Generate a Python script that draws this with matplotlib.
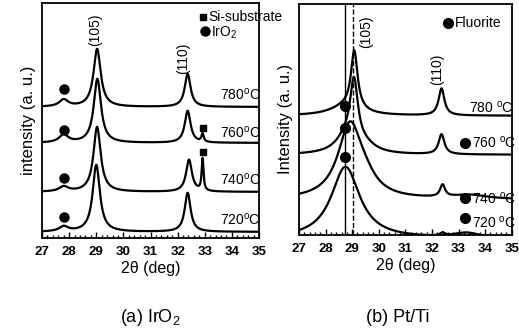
import matplotlib
matplotlib.use('Agg')
import matplotlib.pyplot as plt
from matplotlib.ticker import MultipleLocator
import numpy as np

plt.rcParams['font.family'] = ['Liberation Sans', 'DejaVu Sans']
plt.rcParams['mathtext.fontset'] = 'custom'
plt.rcParams['mathtext.rm'] = 'Liberation Sans'
plt.rcParams['mathtext.it'] = 'Liberation Sans:italic'

# ---- data ----
temps = ['780', '760', '740', '720']

# (a) IrO2: baseline offset and peaks (center 2theta, height, half width)
base_a = [131, 95, 46, 6]
peaks_a = [
    [(27.8, 7, 0.2), (29.03, 58, 0.16), (32.37, 33, 0.13)],
    [(27.8, 8, 0.2), (29.04, 64, 0.16), (32.37, 32, 0.13), (32.92, 8, 0.05)],
    [(27.8, 5, 0.2), (29.03, 65, 0.16), (32.42, 32, 0.13), (32.92, 32, 0.04)],
    [(27.8, 5, 0.2), (29.00, 67, 0.16), (32.37, 39, 0.13)],
]
label_y_a = [143, 105, 58, 18]
irox_dots_a = [(27.8, 149), (27.8, 108), (27.8, 60), (27.8, 21)]
si_marks_a = [(32.95, 110), (32.95, 86)]

# (b) Pt/Ti
base_b = [119, 80, 35, -4]
peaks_b = [
    [(29.08, 58, 0.15), (28.75, 9, 0.7), (32.36, 27, 0.13)],
    [(29.07, 62, 0.18), (28.8, 16, 0.5), (29.5, 6, 0.5), (32.36, 20, 0.13)],
    [(28.92, 74, 0.55), (29.5, 10, 0.5), (32.4, 12, 0.11), (33.4, 4, 0.8)],
    [(28.75, 72, 0.65), (32.4, 3, 0.1), (33.3, 5, 0.6)],
]
label_y_b = [127, 92, 36, 12]
fluor_dots_b = [(28.73, 129), (28.73, 107), (28.73, 78),
                (33.25, 92), (33.25, 37), (33.25, 17)]
vlines_b = [28.72, 29.03]

x = np.linspace(27, 35, 2000)


def pattern(base, peaks):
    y = np.full_like(x, float(base))
    for c, h, w in peaks:
        y += h / (1 + ((x - c) / w) ** 2)
    return y


fig = plt.figure(figsize=(5.19, 3.36), dpi=100)
ax1 = fig.add_axes([0.081, 0.292, 0.418, 0.699])
ax2 = fig.add_axes([0.576, 0.301, 0.410, 0.688])

for ax, ylim in ((ax1, 235), (ax2, 231)):
    ax.set_xlim(27, 35)
    ax.set_ylim(0, ylim)
    ax.set_yticks([])
    ax.xaxis.set_major_locator(MultipleLocator(1))
    ax.xaxis.set_minor_locator(MultipleLocator(0.2))
    ax.tick_params(axis='x', which='both', direction='in', labelsize=9.5, pad=6)
    ax.tick_params(axis='x', which='major', length=4, width=1)
    ax.tick_params(axis='x', which='minor', length=2, width=1)
    for lab in ax.get_xticklabels():
        lab.set_fontweight('bold')
    for s in ax.spines.values():
        s.set_linewidth(1.3)
    ax.set_xlabel('2θ (deg)', fontsize=11.5, labelpad=2)

# panel (a)
for i, t in enumerate(temps):
    ax1.plot(x, pattern(base_a[i], peaks_a[i]), color='black', lw=1.6)
    ax1.text(35.05, label_y_a[i], t + r'$^{\rm o}$C', ha='right', va='center',
             fontsize=10)
for px, py in irox_dots_a:
    ax1.plot(px, py, 'o', color='black', ms=6.5)
for px, py in si_marks_a:
    ax1.plot(px, py, 's', color='black', ms=5)
ax1.plot(32.95, 221, 's', color='black', ms=5)
ax1.text(33.15, 221, 'Si-substrate', va='center', fontsize=10)
ax1.plot(33.0, 207, 'o', color='black', ms=6.5)
ax1.text(33.22, 205, r'IrO$_2$', va='center', fontsize=10)
ax1.text(28.95, 208, '(105)', rotation=90, ha='center', va='center', fontsize=10)
ax1.text(32.2, 180, '(110)', rotation=90, ha='center', va='center', fontsize=10)
ax1.set_ylabel('intensity (a. u.)', fontsize=12, labelpad=4)

# panel (b)
for xv, ls in zip(vlines_b, ['-', '--']):
    ax2.axvline(xv, color='black', lw=1.0, ls=ls)
for i, t in enumerate(temps):
    ax2.plot(x, pattern(base_b[i], peaks_b[i]), color='black', lw=1.6)
    xt = 33.5 if i > 0 else 35.05
    ax2.text(xt, label_y_b[i], t + r' $^{\rm o}$C', ha='left' if i > 0 else 'right',
             va='center', fontsize=10)
for px, py in fluor_dots_b:
    ax2.plot(px, py, 'o', color='black', ms=7)
ax2.plot(32.6, 212, 'o', color='black', ms=7)
ax2.text(32.85, 212, 'Fluorite', va='center', fontsize=10)
ax2.text(29.52, 203, '(105)', rotation=90, ha='center', va='center', fontsize=10)
ax2.text(32.2, 165, '(110)', rotation=90, ha='center', va='center', fontsize=10)
ax2.set_ylabel('Intensity (a. u.)', fontsize=12, labelpad=4)

fig.text(150 / 519, 1 - 318 / 336, r'(a) IrO$_2$', ha='center', va='center', fontsize=13)
fig.text(398 / 519, 1 - 318 / 336, '(b) Pt/Ti', ha='center', va='center', fontsize=13)

fig.savefig('out.png', dpi=100)
